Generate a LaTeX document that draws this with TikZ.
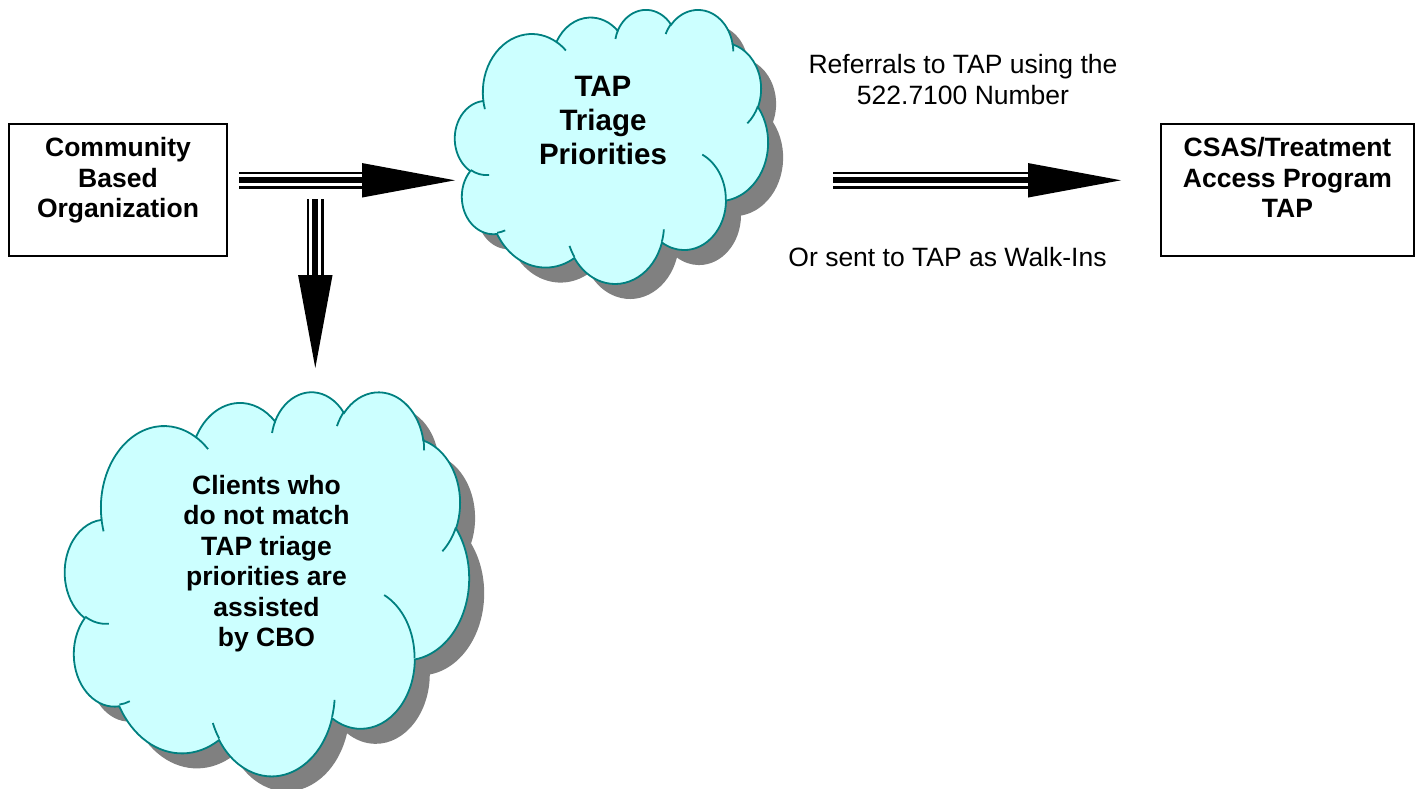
\documentclass[tikz,border=0pt]{standalone}
\usepackage{fontspec}
\setmainfont{Liberation Sans}
\usetikzlibrary{arrows.meta}
\usetikzlibrary{positioning}

\definecolor{cloudfill}{HTML}{CCFFFF}
\definecolor{cloudline}{HTML}{008080}
\definecolor{shadowgray}{HTML}{808080}

% cloud outline, built from elliptic arcs in a 432 x 432 box (y going down)
\newcommand\cloudpath{}
\newcommand\cloudlines{}
\newcommand\cloudarc[4]{%
	\pgfmathsetmacro\cloudts{atan2(#1*sin(#3),#2*cos(#3))}%
	\pgfmathsetmacro\cloudte{atan2(#1*sin(#3+#4),#2*cos(#3+#4))}%
	\pgfmathsetmacro\cloudtd{mod(\cloudte-\cloudts+720,360)}%
	\xdef\cloudpath{\cloudpath\space arc[start angle=\cloudts, delta angle=\cloudtd, x radius=#1, y radius=#2]}%
}
\newcommand\cloudline[6]{%
	\pgfmathsetmacro\cloudts{atan2(#3*sin(#5),#4*cos(#5))}%
	\pgfmathsetmacro\cloudte{atan2(#3*sin(#5+#6),#4*cos(#5+#6))}%
	\pgfmathsetmacro\cloudtd{mod(\cloudte-\cloudts+720,360)}%
	\xdef\cloudlines{\cloudlines\space(#1,#2) arc[start angle=\cloudts, delta angle=\cloudtd, x radius=#3, y radius=#4]}%
}

\xdef\cloudpath{(39.00,143.70)}
\cloudarc{67.53}{91.90}{-190.4875}{123.7805}
\cloudarc{53.33}{72.67}{-144.1024}{89.9452}
\cloudarc{43.65}{59.45}{-145.8079}{99.7230}
\cloudarc{48.57}{65.95}{-130.9861}{117.2417}
\cloudarc{53.33}{72.73}{-78.7089}{109.0269}
\cloudarc{67.75}{92.20}{-46.2673}{130.2690}
\cloudarc{57.85}{78.67}{0.6250}{114.0333}
\cloudarc{67.52}{92.15}{22.4516}{115.1726}
\cloudarc{77.20}{105.43}{66.2426}{75.7110}
\cloudarc{43.60}{59.18}{-274.9421}{146.7356}
\cloudarc{43.45}{59.45}{-246.8285}{152.5189}
\xdef\cloudpath{\cloudpath\space -- cycle}

\cloudline{46.93}{261.77}{43.45}{59.45}{86.7420}{26.4295}
\cloudline{69.28}{348.99}{43.60}{59.18}{73.6105}{11.4475}
\cloudline{164.78}{390.90}{67.52}{92.15}{137.6242}{14.0811}
\cloudline{288.27}{347.51}{67.52}{92.15}{6.4533}{15.9984}
\cloudline{341.29}{229.54}{57.85}{78.67}{-70.2924}{70.9174}
\cloudline{417.98}{153.54}{53.33}{72.73}{30.3180}{27.7515}
\cloudline{383.24}{54.26}{48.57}{65.95}{-13.7443}{14.8589}
\cloudline{290.78}{39.52}{48.57}{65.95}{-149.1815}{18.1954}
\cloudline{221.41}{47.20}{43.65}{59.45}{-163.4943}{17.6864}
\cloudline{140.00}{51.92}{67.53}{91.90}{-66.7070}{12.3194}
\cloudline{41.27}{157.89}{67.53}{91.90}{157.6544}{11.8582}

\begin{document}
\begin{tikzpicture}
		[x=1pt, y=-1pt,
		box/.style={draw, line width=2pt, inner sep=0pt, minimum height=132.3pt},
		boxtext/.style={font=\fontsize{26.5}{30.5}\selectfont\bfseries, align=center, inner sep=0pt},
		cloudtext/.style={font=\fontsize{29.5}{34}\selectfont\bfseries, align=center, inner sep=0pt, anchor=north},
		note/.style={font=\fontsize{26.5}{31.5}\selectfont, align=center, inner sep=0pt},
		puff/.style={fill=cloudfill, draw=cloudline, line width=1.8pt},
		puffshadow/.style={fill=shadowgray, xshift=15pt, yshift=-15pt},
		triple/.style={line width=6pt, -{Triangle[length=93pt, width=34.5pt, line width=0pt]},
			preaction={draw, -, shorten >=93pt, line width=2.3pt, double=white, double distance=12pt}}]
		\useasboundingbox (0,0) rectangle (1422,789);

		\begin{scope}[shift={(455,9)}, x=0.72454pt, y=-0.63426pt]
			\fill[puffshadow] \cloudpath;
			\filldraw[puff] \cloudpath;
			\draw[puff, fill=none] \cloudlines;
		\end{scope}
		\begin{scope}[shift={(65,391)}, x=0.93519pt, y=-0.88889pt]
			\fill[puffshadow] \cloudpath;
			\filldraw[puff] \cloudpath;
			\draw[puff, fill=none] \cloudlines;
		\end{scope}

		\node[box, minimum width=218pt] (cbo) at (118,189.85) {};
		\node[boxtext, below=14.5pt of cbo.north] (cbotext) {Community\\Based\\Organization};

		\node[box, minimum width=253pt] (csas) at (1287.5,189.7) {};
		\node[boxtext, below=15pt of csas.north] (csastext) {CSAS/Treatment\\Access Program\\TAP};

		\node[cloudtext] (tap) at (603,76) {TAP\\Triage\\Priorities};
		\node[boxtext, anchor=north] (clients) at (266.5,475)
			{Clients who\\do not match\\TAP triage\\priorities are\\assisted\\by CBO};

		\node[note, anchor=north] (referral) at (963,54) {Referrals to TAP using the\\522.7100 Number};
		\node[note, anchor=base] (walkin) at (947.5,266.7) {Or sent to TAP as Walk-Ins};

		\coordinate (tapw) at (455,180.3);
		\coordinate (split) at (315.3,199.3);
		\coordinate (drop) at (315.3,368);
		\coordinate (out) at (833,180.3);

		\draw[triple] ([xshift=11pt]cbo.east |- tapw) -- (tapw);
		\draw[triple] (split) -- (drop);
		\draw[triple] (out) -- ([xshift=-39pt]csas.west |- out);
	\end{tikzpicture}
\end{document}
